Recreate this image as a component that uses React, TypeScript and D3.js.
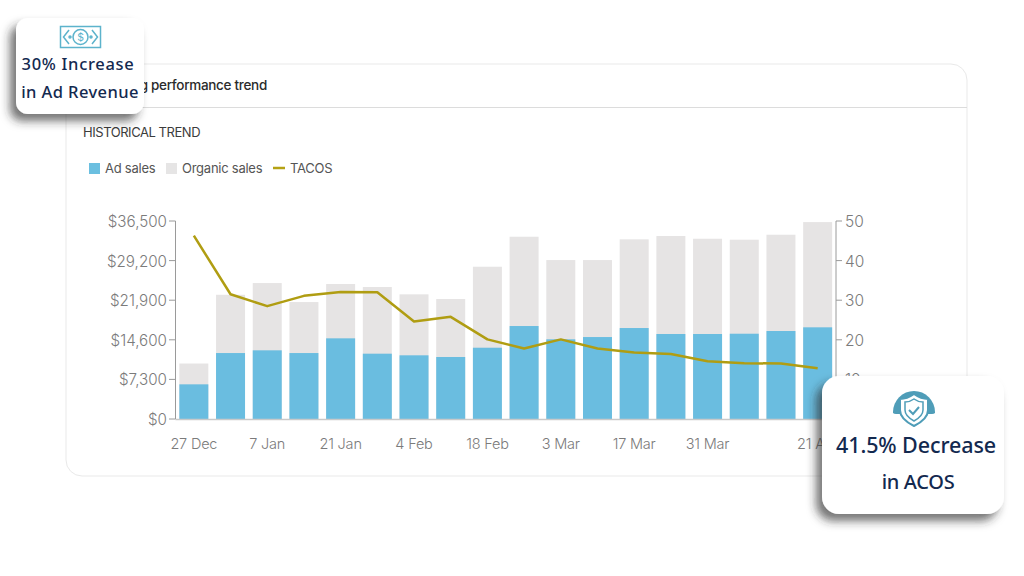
import React from "react";
import * as d3 from "d3";

const dates = ["27 Dec","","7 Jan","","21 Jan","","4 Feb","","18 Feb","","3 Mar","","17 Mar","","31 Mar","","","21 Apr"];
const adSales = [6390,12160,12660,12160,14870,12040,11740,11430,13140,17140,14690,15110,16770,15670,15670,15720,16220,16900];
const totalSales = [10230,22900,25060,21560,24880,24330,22980,22120,28070,33600,29300,29300,33120,33730,33230,33050,33970,36300];
const tacos = [46.3,31.5,28.5,31.1,32.1,32,24.6,25.8,20.1,17.8,20.1,17.8,16.8,16.4,14.6,14.1,14.0,12.8];
const leftTicks = [0,7300,14600,21900,29200,36500];
const rightTicks = [0,10,20,30,40,50];

const F = "Inter, 'Open Sans', sans-serif";
const CF = "'Noto Sans', sans-serif";
const GREY = "#7b7b7b";
const NAVY = "#13294f";
const TEAL = "#4f9db8";

export default function App() {
  const x = d3.scaleBand<number>().domain(d3.range(dates.length)).range([175.5, 836]).paddingInner(0.21).paddingOuter(0.105);
  const yL = d3.scaleLinear().domain([0, 36500]).range([419, 221]);
  const yR = d3.scaleLinear().domain([0, 50]).range([419, 221]);
  const cx = (i: number) => x(i)! + x.bandwidth() / 2;
  const line = d3.line<number>().x((_, i) => cx(i)).y(d => yR(d));
  const money = d3.format("$,");
  return (
    <svg width={1024} height={576} style={{ position: "fixed", left: 0, top: 0, background: "#fff" }} fontFamily={F}>
      <defs>
        <filter id="sh" x="-30%" y="-30%" width="160%" height="160%">
          <feDropShadow dx={-6} dy={7} stdDeviation={5} floodColor="#2a2a2a" floodOpacity={0.65} />
        </filter>
      </defs>
      <rect x={66} y={64} width={901} height={412} rx={16} fill="#fff" stroke="#e9e9e9" />
      <line x1={66} x2={967} y1={107.5} y2={107.5} stroke="#dcdcdc" />
      <text x={267} y={90} textAnchor="end" fontSize={13.5} fontWeight={500} letterSpacing={-0.3} fill="#2b2b2b">g performance trend</text>
      <text x={83} y={137} fontSize={13} letterSpacing={-0.45} fill="#3c3c3c">HISTORICAL TREND</text>

      <rect x={89} y={163} width={11} height={11} fill="#6bbfe0" />
      <text x={105} y={173} fontSize={13} letterSpacing={-0.25} fill="#555">Ad sales</text>
      <rect x={166} y={163} width={11} height={11} fill="#e6e5e5" />
      <text x={182} y={173} fontSize={13} letterSpacing={-0.25} fill="#555">Organic sales</text>
      <line x1={273} x2={285} y1={168} y2={168} stroke="#b5a214" strokeWidth={2.5} />
      <text x={290} y={173} fontSize={13} letterSpacing={-0.25} fill="#555">TACOS</text>

      {dates.map((_, i) => (
        <g key={i}>
          <rect x={x(i)} y={yL(totalSales[i])} width={x.bandwidth()} height={yL(0) - yL(totalSales[i])} fill="#e6e4e4" />
          <rect x={x(i)} y={yL(adSales[i])} width={x.bandwidth()} height={yL(0) - yL(adSales[i])} fill="#6abde0" />
        </g>
      ))}
      <line x1={175.5} x2={836} y1={419.5} y2={419.5} stroke="#c9c9c9" strokeWidth={1.5} />
      <path d={line(tacos)!} fill="none" stroke="#b09d12" strokeWidth={2.5} strokeLinejoin="round" />

      <line x1={175.5} x2={175.5} y1={221} y2={419} stroke="#9a9a9a" />
      {leftTicks.map(t => (
        <g key={t}>
          <line x1={169} x2={175.5} y1={yL(t)} y2={yL(t)} stroke="#9a9a9a" />
          <text x={167} y={yL(t) + 6} textAnchor="end" fontSize={15.2} fontWeight={300} fill={GREY}>{money(t)}</text>
        </g>
      ))}
      <line x1={836} x2={836} y1={221} y2={419} stroke="#9a9a9a" />
      {rightTicks.map(t => (
        <g key={t}>
          <line x1={836} x2={842} y1={yR(t)} y2={yR(t)} stroke="#9a9a9a" />
          {t > 0 && <text x={845} y={yR(t) + 6} fontSize={15.5} fontWeight={300} fill={GREY}>{t}</text>}
        </g>
      ))}
      {dates.map((d, i) => d && (
        <text key={i} x={cx(i)} y={449} textAnchor="middle" fontSize={14.5} fontWeight={300} letterSpacing={-0.2} fill={GREY}>{d}</text>
      ))}

      <rect x={16} y={18} width={128} height={96} rx={12} fill="#fff" filter="url(#sh)" />
      <g fill="none" stroke="#5cb3cc" strokeWidth={1.5}>
        <rect x={60.5} y={26.5} width={40} height={21} />
        <circle cx={80.5} cy={37} r={7.5} />
        <path d="M69 30 L63.5 37 L69 44 M92 30 L97.5 37 L92 44" />
        <circle cx={70} cy={37} r={1} />
        <circle cx={91} cy={37} r={1} />
      </g>
      <text x={80.5} y={41} textAnchor="middle" fontSize={10.5} fill="#5cb3cc">$</text>
      <text x={78} y={70} textAnchor="middle" fontFamily={CF} fontSize={16.5} fontWeight={500} letterSpacing={0.7} fill={NAVY}>30% Increase</text>
      <text x={80} y={98} textAnchor="middle" fontFamily={CF} fontSize={16.5} fontWeight={500} letterSpacing={0.4} fill={NAVY}>in Ad Revenue</text>

      <rect x={822} y={376} width={182} height={138} rx={17} fill="#fff" filter="url(#sh)" />
      <path d="M893 412 a21 21 0 0 1 42 0 l0 1 q-1 1 -3 1 l-36 0 q-2 0 -3 -1 z" fill={TEAL} />
      <path d="M914 394 q7 5 14 5 v11 q0 9 -14 16 q-14 -7 -14 -16 v-11 q7 0 14 -5 z" fill="#fff" stroke={TEAL} strokeWidth={2} />
      <path d="M914 399 q4 3 9 3 v8 q0 6 -9 11 q-9 -5 -9 -11 v-8 q5 0 9 -3 z" fill="#fff" stroke={TEAL} strokeWidth={1.5} />
      <path d="M909 410 l4 4 l6 -7" fill="none" stroke={TEAL} strokeWidth={2} />
      <text x={916} y={453} textAnchor="middle" fontFamily={CF} fontSize={21.5} fontWeight={500} letterSpacing={-0.1} fill={NAVY}>41.5% Decrease</text>
      <text x={918} y={489} textAnchor="middle" fontFamily={CF} fontSize={20} fontWeight={500} letterSpacing={-0.3} fill={NAVY}>in ACOS</text>
    </svg>
  );
}
